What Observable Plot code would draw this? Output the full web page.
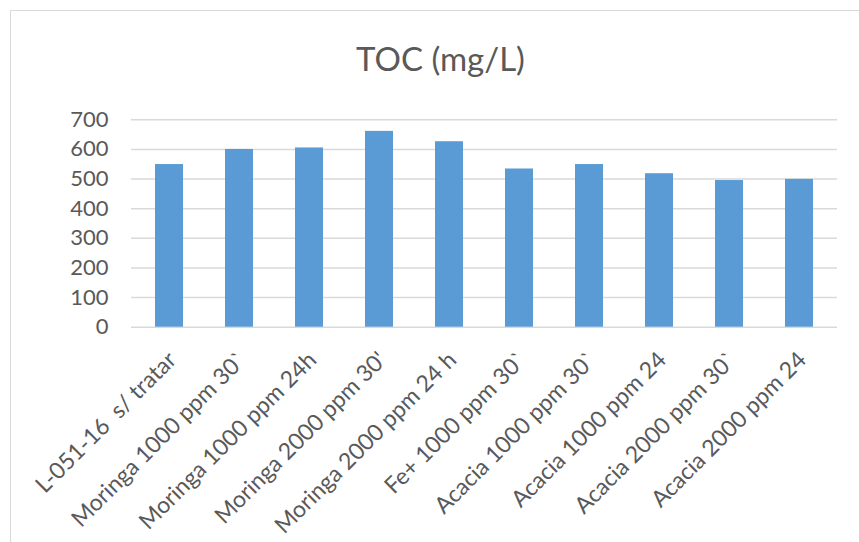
<!DOCTYPE html>
<html>
<head>
<meta charset="utf-8">
<script src="https://cdn.jsdelivr.net/npm/d3@7"></script>
<script src="https://cdn.jsdelivr.net/npm/@observablehq/plot@0.6"></script>
<style>
  html, body { margin: 0; padding: 0; background: #fff; overflow: hidden; }
  #wrap { position: relative; width: 859px; height: 542px; overflow: hidden; }
  #frame {
    position: absolute; left: 10px; top: 10px; width: 900px; height: 600px;
    border: 1.5px solid #d9d9d9; box-sizing: border-box;
  }
  #wrap svg { position: absolute; left: 0; top: 0; }
  #wrap svg text { white-space: pre; }
</style>
</head>
<body>
<div id="wrap"><div id="frame"></div></div>
<script>
// TOC measurements per treatment
const title = "TOC (mg/L)";
const categories = [
  "L-051-16  s/ tratar",
  "Moringa 1000 ppm 30`",
  "Moringa 1000 ppm 24h",
  "Moringa 2000 ppm 30'",
  "Moringa 2000 ppm 24 h",
  "Fe+ 1000 ppm 30`",
  "Acacia 1000 ppm 30`",
  "Acacia 1000 ppm 24",
  "Acacia 2000 ppm 30`",
  "Acacia 2000 ppm 24"
];
const toc = [549, 600, 605, 661, 626, 534, 549, 518, 495, 499];
const yTicks = [0, 100, 200, 300, 400, 500, 600, 700];

const data = categories.map((c, i) => ({category: c, value: toc[i]}));

const fontFamily = "Lato, 'Open Sans', sans-serif";
const textColor = "#595959";

const chart = Plot.plot({
  width: 859,
  height: 542,
  marginLeft: 131,
  marginRight: 22,
  marginTop: 119.3,
  marginBottom: 215.3,
  style: {fontFamily, fontSize: "22px", color: textColor, background: "transparent"},
  x: {domain: categories, paddingInner: 0.6, paddingOuter: 0.3, axis: null},
  y: {domain: [0, 700], axis: null},
  marks: [
    Plot.ruleY(yTicks, {stroke: "#d9d9d9", strokeWidth: 1.4}),
    Plot.barY(data, {x: "category", y: "value", fill: "#5b9bd5"}),
    Plot.axisY({
      ticks: yTicks, tickSize: 0, tickPadding: 23, label: null,
      fontSize: 22, fill: textColor, tickFormat: d => String(d)
    }),
    Plot.text(categories, {
      x: d => d, y: () => 0,
      rotate: -45, textAnchor: "end", lineAnchor: "middle",
      dx: 3, dy: 29, fontSize: 23, fill: textColor
    }),
    Plot.text([title], {
      frameAnchor: "top-left", dx: 309, dy: -59.5,
      textAnchor: "middle", lineAnchor: "middle",
      fontSize: 33, fill: textColor
    })
  ]
});

document.getElementById("wrap").appendChild(chart);
</script>
</body>
</html>
